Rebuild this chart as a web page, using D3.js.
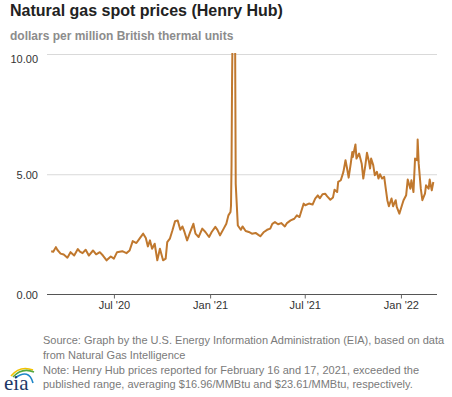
<!DOCTYPE html>
<html>
<head>
<meta charset="utf-8">
<script src="https://cdn.jsdelivr.net/npm/d3@7/dist/d3.min.js"></script>
<style>
  body { margin: 0; background: #fff; }
  svg { display: block; font-family: "Liberation Sans", Arial, sans-serif; }
</style>
</head>
<body>
<figure id="chart" style="margin:0"></figure>
<script>
// Henry Hub spot price, dollars per MMBtu
const dates = [
  "2020-03-03","2020-03-07","2020-03-12","2020-03-15","2020-03-21","2020-03-27","2020-04-03","2020-04-09",
  "2020-04-16","2020-04-23","2020-04-27","2020-05-02","2020-05-08","2020-05-14","2020-05-22","2020-05-28",
  "2020-06-04","2020-06-10","2020-06-17","2020-06-25","2020-07-01","2020-07-07","2020-07-17","2020-07-25",
  "2020-07-31","2020-08-06","2020-08-13","2020-08-19","2020-08-26","2020-08-31","2020-09-04","2020-09-08",
  "2020-09-12","2020-09-17","2020-09-22","2020-09-27","2020-10-03","2020-10-08","2020-10-11","2020-10-16",
  "2020-10-21","2020-10-26","2020-10-31","2020-11-05","2020-11-09","2020-11-13","2020-11-18","2020-11-24",
  "2020-11-30","2020-12-04","2020-12-10","2020-12-17","2020-12-23","2020-12-30","2021-01-04","2021-01-11",
  "2021-01-15","2021-01-20","2021-01-27","2021-02-01","2021-02-05","2021-02-09","2021-02-10","2021-02-11",
  "2021-02-12","2021-02-16","2021-02-17","2021-02-18","2021-02-19","2021-02-23","2021-03-01","2021-03-04",
  "2021-03-10","2021-03-16","2021-03-22","2021-03-29","2021-04-02","2021-04-07","2021-04-14","2021-04-20",
  "2021-04-26","2021-04-30","2021-05-05","2021-05-11","2021-05-17","2021-05-24","2021-05-28","2021-06-04",
  "2021-06-11","2021-06-16","2021-06-21","2021-06-25","2021-06-29","2021-07-02","2021-07-09","2021-07-16",
  "2021-07-21","2021-07-26","2021-07-30","2021-08-04","2021-08-09","2021-08-13","2021-08-19","2021-08-24",
  "2021-08-27","2021-09-01","2021-09-03","2021-09-08","2021-09-13","2021-09-17","2021-09-20","2021-09-23",
  "2021-09-27","2021-09-30","2021-10-01","2021-10-06","2021-10-08","2021-10-13","2021-10-18","2021-10-21",
  "2021-10-25","2021-10-28","2021-11-01","2021-11-03","2021-11-05","2021-11-09","2021-11-12","2021-11-16",
  "2021-11-19","2021-11-22","2021-11-26","2021-11-30","2021-12-03","2021-12-06","2021-12-09","2021-12-14",
  "2021-12-17","2021-12-22","2021-12-24","2021-12-29","2022-01-03","2022-01-06","2022-01-11","2022-01-14",
  "2022-01-19","2022-01-21","2022-01-25","2022-01-28","2022-02-01","2022-02-02","2022-02-04","2022-02-08",
  "2022-02-11","2022-02-16","2022-02-18","2022-02-23","2022-02-25","2022-03-01","2022-03-04"
];
const prices = [
  1.80,1.78,1.97,1.85,1.70,1.66,1.53,1.76,
  1.62,1.89,1.78,1.72,1.86,1.62,1.83,1.67,
  1.76,1.62,1.42,1.58,1.49,1.76,1.80,1.72,
  1.83,2.22,2.14,2.32,2.53,2.35,2.00,2.25,
  1.90,2.11,1.42,1.90,1.42,1.49,2.18,2.32,
  2.67,3.05,3.08,2.69,2.83,2.60,2.25,2.60,
  2.94,2.53,2.39,2.74,2.60,2.39,2.60,2.81,
  2.69,2.46,2.74,2.94,3.29,3.43,3.70,5.40,
  8.90,16.96,23.61,9.60,4.60,2.87,2.69,2.83,
  2.64,2.60,2.53,2.56,2.50,2.42,2.60,2.69,
  2.74,2.94,3.01,2.92,2.97,2.83,2.97,3.08,
  3.15,3.29,3.22,3.50,3.78,3.71,3.78,3.74,
  3.99,4.12,4.00,4.17,4.19,4.08,3.94,4.03,
  4.36,4.26,4.68,4.75,5.10,5.58,5.24,4.86,
  5.44,5.93,5.72,6.24,5.65,5.86,5.44,4.82,
  5.38,5.89,5.51,5.24,5.65,5.38,4.96,5.10,
  4.82,5.00,4.82,4.89,4.40,3.92,3.67,3.99,
  3.67,3.92,3.64,3.36,3.71,3.92,4.13,4.78,
  4.40,4.75,4.26,5.65,5.58,6.44,5.44,4.40,
  3.92,4.19,4.54,4.40,4.78,4.33,4.68
];
const yTicks = [0, 5, 10];
const xTicks = ["2020-07-01", "2021-01-01", "2021-07-01", "2022-01-01"];
const footer = [
  "Source: Graph by the U.S. Energy Information Administration (EIA), based on data",
  "from Natural Gas Intelligence",
  "Note: Henry Hub prices reported for February 16 and 17, 2021, exceeded the",
  "published range, averaging $16.96/MMBtu and $23.61/MMBtu, respectively."
];

const width = 452, height = 397;
const plotLeft = 47, plotRight = 437, plotTop = 54, plotBottom = 294.5;
const parse = d3.utcParse("%Y-%m-%d");
const data = dates.map((d, i) => ({ date: parse(d), value: prices[i] }));

const svg = d3.select("figure#chart")
  .append("svg")
  .attr("width", width)
  .attr("height", height);

// titles
svg.append("text")
  .attr("x", 10).attr("y", 16)
  .attr("font-size", 16).attr("font-weight", "bold").attr("fill", "#222")
  .text("Natural gas spot prices (Henry Hub)");
svg.append("text")
  .attr("x", 10).attr("y", 40)
  .attr("font-size", 12).attr("font-weight", "bold").attr("fill", "#8c8c8c")
  .text("dollars per million British thermal units");

// scales
const x = d3.scaleUtc()
  .domain([parse("2020-02-24"), parse("2022-03-11")])
  .range([plotLeft, plotRight]);
const y = d3.scaleLinear()
  .domain([0, 10])
  .range([plotBottom, plotTop]);

// y gridlines + labels
const yAxis = svg.append("g")
  .attr("transform", "translate(" + plotLeft + ",0)")
  .call(d3.axisLeft(y).tickValues(yTicks).tickSize(-(plotRight - plotLeft)).tickFormat(d3.format(".2f")));
yAxis.select(".domain").remove();
yAxis.selectAll(".tick line")
  .attr("stroke", d => d === 0 ? "none" : "#d9d9d9");
yAxis.selectAll(".tick text")
  .attr("x", -9)
  .attr("dy", d => d === 10 ? "0.75em" : "0.35em")
  .attr("font-size", 11)
  .attr("font-family", "Liberation Sans, Arial, sans-serif")
  .attr("fill", "#333");

// clip the line to the plot area (Feb 2021 prices exceed the range)
svg.append("clipPath").attr("id", "plot")
  .append("rect")
  .attr("x", plotLeft).attr("y", plotTop - 1)
  .attr("width", plotRight - plotLeft).attr("height", plotBottom - plotTop + 1);

const line = d3.line()
  .x(d => x(d.date))
  .y(d => y(d.value));

svg.append("path")
  .datum(data)
  .attr("clip-path", "url(#plot)")
  .attr("fill", "none")
  .attr("stroke", "#c0782e")
  .attr("stroke-width", 2)
  .attr("stroke-linejoin", "round")
  .attr("d", line);

// x axis
const xAxis = svg.append("g")
  .attr("transform", "translate(0," + plotBottom + ")")
  .call(d3.axisBottom(x).tickValues(xTicks.map(parse)).tickSize(4).tickSizeOuter(0)
    .tickFormat(d3.utcFormat("%b '%y")));
xAxis.select(".domain").attr("stroke", "#555").attr("d", "M" + plotLeft + ",0H" + plotRight);
xAxis.selectAll(".tick line").attr("stroke", "#666");
xAxis.selectAll(".tick text")
  .attr("y", 7)
  .attr("font-size", 11)
  .attr("font-family", "Liberation Sans, Arial, sans-serif")
  .attr("fill", "#333");

// footer
svg.append("g").selectAll("text")
  .data(footer)
  .enter()
  .append("text")
  .attr("x", 43)
  .attr("y", (d, i) => 344.3 + i * 14.6)
  .attr("font-size", 11)
  .attr("fill", "#7a7a7a")
  .text(d => d);

// eia logo
const logo = svg.append("g");
logo.append("path").attr("d", "M11,376 Q20,365 33,370").attr("fill", "none").attr("stroke", "#f2c200").attr("stroke-width", 1.6);
logo.append("path").attr("d", "M13,377 Q22,367 34,372").attr("fill", "none").attr("stroke", "#55a83c").attr("stroke-width", 1.6);
logo.append("path").attr("d", "M15,378 Q29,368 33,383").attr("fill", "none").attr("stroke", "#1e86c8").attr("stroke-width", 1.6);
logo.append("text")
  .attr("x", 4).attr("y", 390)
  .attr("font-family", "Liberation Serif, Times New Roman, serif")
  .attr("font-size", 21)
  .attr("fill", "#1d3866")
  .text("eia");
</script>
</body>
</html>
